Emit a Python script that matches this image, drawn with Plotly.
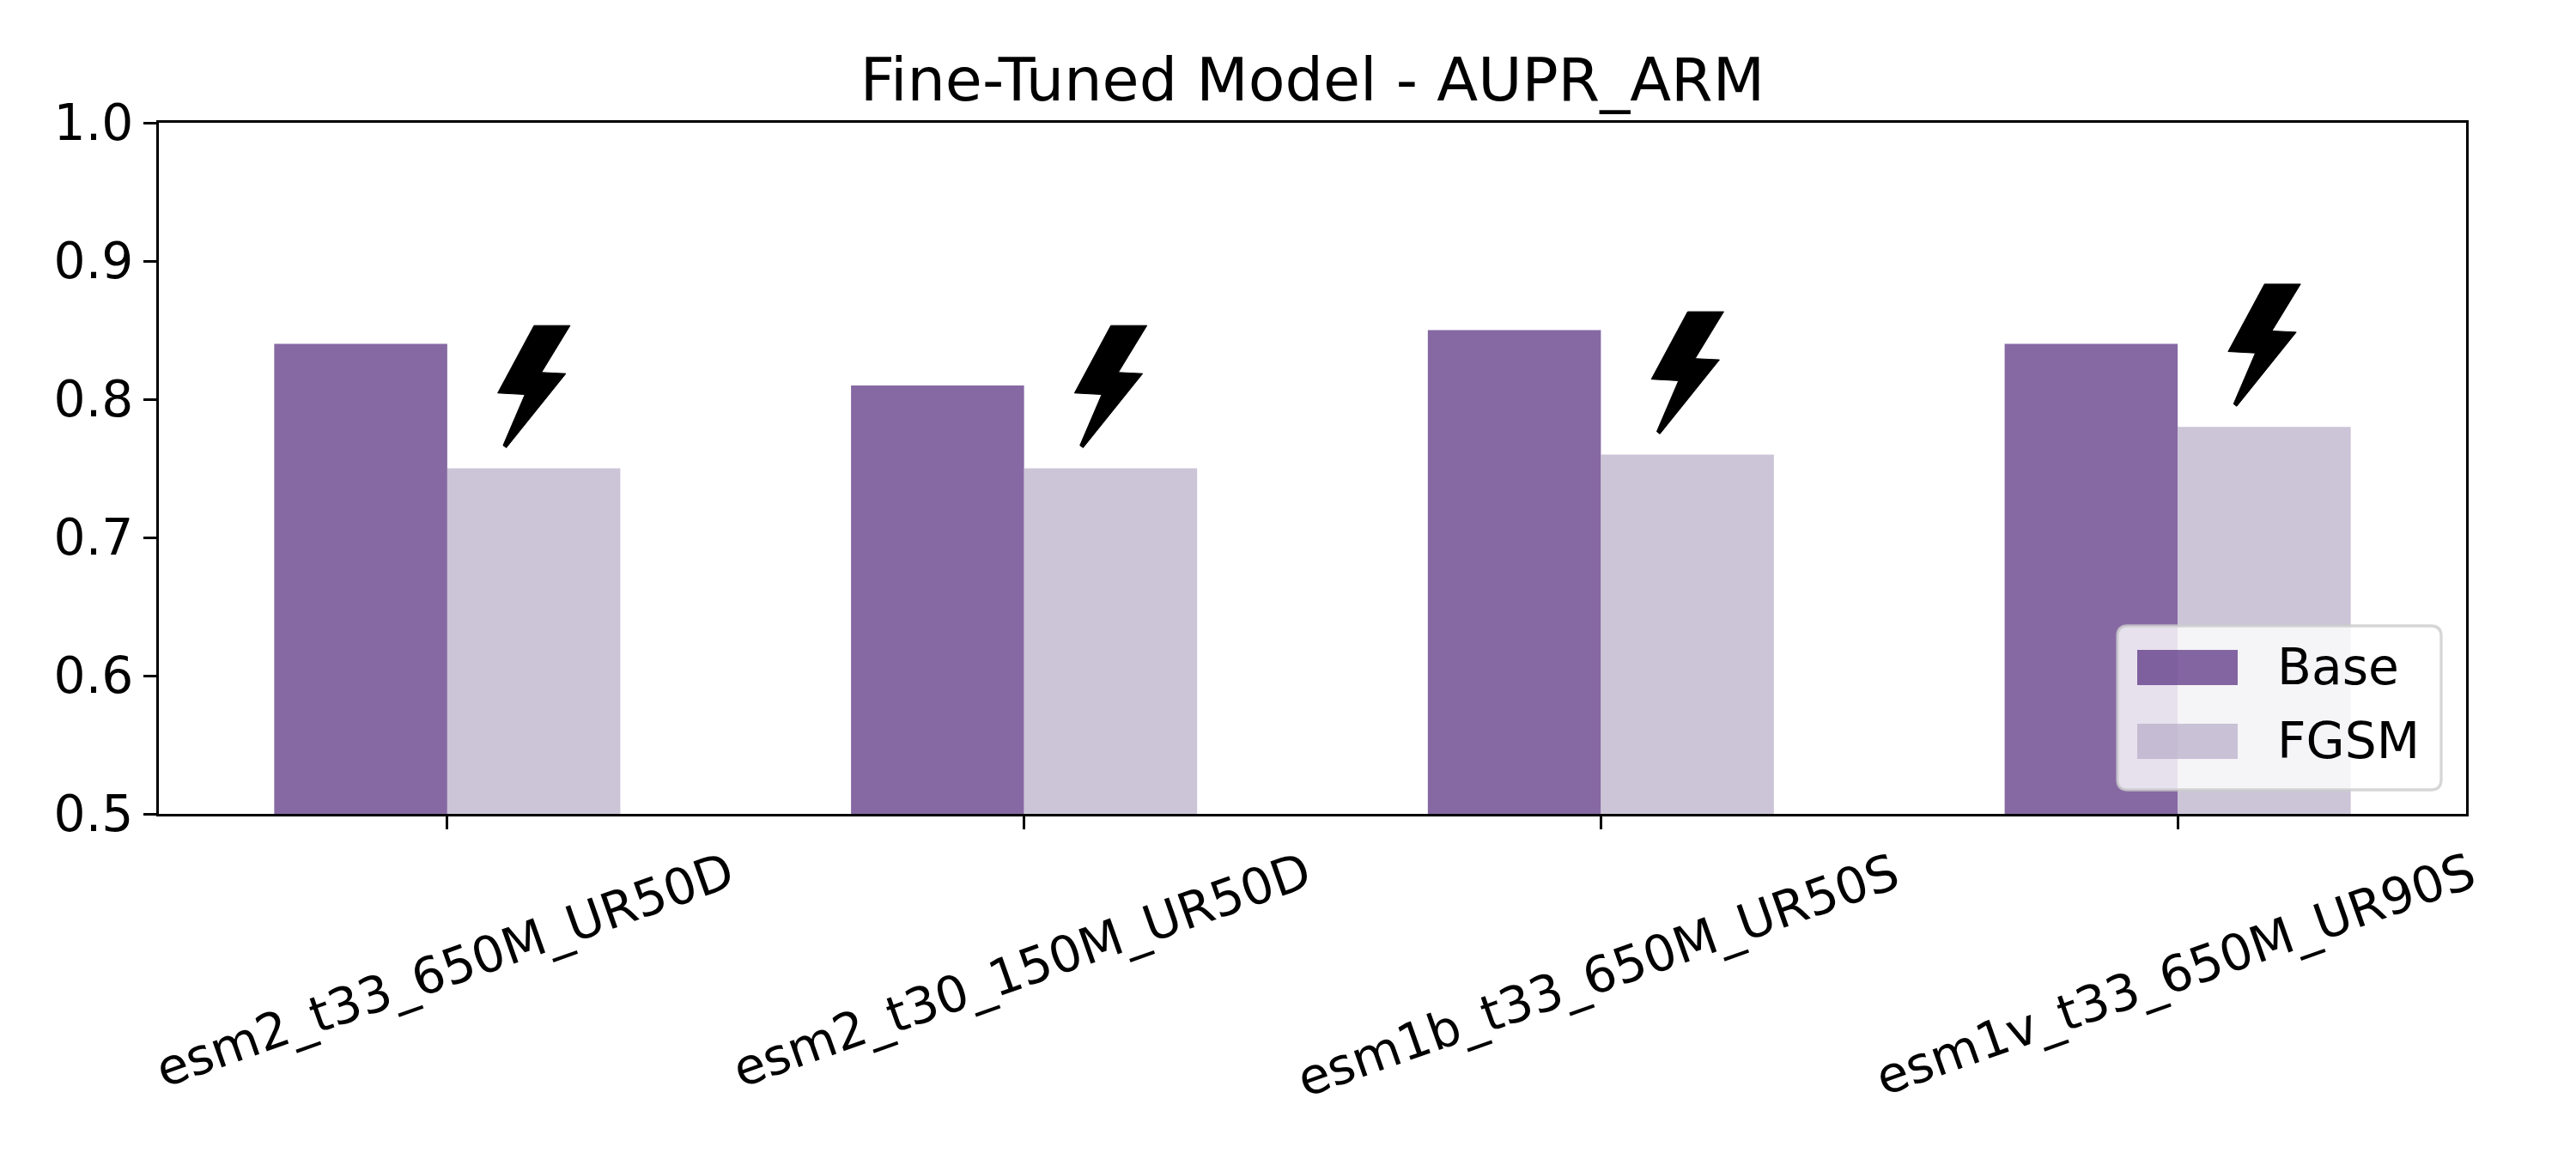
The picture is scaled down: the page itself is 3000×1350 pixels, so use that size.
import plotly.graph_objects as go

categories = ["esm2_t33_650M_UR50D", "esm2_t30_150M_UR50D", "esm1b_t33_650M_UR50S", "esm1v_t33_650M_UR90S"]
base_values = [0.84, 0.81, 0.85, 0.84]
fgsm_values = [0.75, 0.75, 0.76, 0.78]
y_ticks = [0.5, 0.6, 0.7, 0.8, 0.9, 1.0]
y_tick_labels = ["0.5", "0.6", "0.7", "0.8", "0.9", "1.0"]
series_names = ["Base", "FGSM"]

BASE_C = "rgba(82,41,124,0.7)"
FGSM_C = "rgba(182,172,200,0.7)"
W, H = 3000, 1350
L, R, T, B = 185, 2872, 143, 948
FONT = "DejaVu Sans"
FS = 58.3
BAR_W = 0.3
idx = list(range(len(categories)))


def px(x):
    return (x - L) / (R - L)


def py(y):
    return (B - y) / (B - T)


fig = go.Figure()
fig.add_bar(x=idx, y=[v - 0.5 for v in base_values], base=0.5, width=BAR_W, offset=-BAR_W,
            marker=dict(color=BASE_C, line_width=0), name=series_names[0], showlegend=False)
fig.add_bar(x=idx, y=[v - 0.5 for v in fgsm_values], base=0.5, width=BAR_W, offset=0,
            marker=dict(color=FGSM_C, line_width=0), name=series_names[1], showlegend=False)

shapes = []
# lightning icon, in pixel offsets from the top centre of each FGSM bar
bolt = [(367, 116), (493, 116), (393, 280), (478, 284), (270, 543), (259, 535), (335, 357), (240, 352)]
pts = [((zx / 3 + 500) - 622, 545 - (340 + zy / 3)) for zx, zy in bolt]
bolt_path = "M" + " L".join(f"{a:.1f},{b:.1f}" for a, b in pts) + " Z"
for i, v in zip(idx, fgsm_values):
    shapes.append(dict(type="path", path=bolt_path, xsizemode="pixel", ysizemode="pixel",
                       xref="x", yref="y", xanchor=i + BAR_W / 2, yanchor=v,
                       fillcolor="black", line=dict(color="black", width=1), layer="above"))

# legend box
x0, x1, y0, y1, r = 2466, 2843, 729, 920, 12
box = (f"M{px(x0 + r)},{py(y0)} L{px(x1 - r)},{py(y0)} Q{px(x1)},{py(y0)} {px(x1)},{py(y0 + r)} "
       f"L{px(x1)},{py(y1 - r)} Q{px(x1)},{py(y1)} {px(x1 - r)},{py(y1)} L{px(x0 + r)},{py(y1)} "
       f"Q{px(x0)},{py(y1)} {px(x0)},{py(y1 - r)} L{px(x0)},{py(y0 + r)} Q{px(x0)},{py(y0)} {px(x0 + r)},{py(y0)} Z")
shapes.append(dict(type="path", path=box, xref="paper", yref="paper", fillcolor="rgba(255,255,255,0.8)",
                   line=dict(color="rgba(204,204,204,0.8)", width=3.3), layer="above"))
shapes.append(dict(type="rect", xref="paper", yref="paper", x0=px(2489), x1=px(2606), y0=py(798), y1=py(757),
                   fillcolor=BASE_C, line_width=0, layer="above"))
shapes.append(dict(type="rect", xref="paper", yref="paper", x0=px(2489), x1=px(2606), y0=py(884), y1=py(843),
                   fillcolor=FGSM_C, line_width=0, layer="above"))

annotations = [dict(x=i, y=-(979 - B) / (B - T), xref="x", yref="paper", text=c, textangle=-19.5,
                    showarrow=False, xanchor="center", yanchor="top", borderpad=0, xshift=-3,
                    font=dict(family=FONT, size=FS, color="black"))
               for i, c in zip(idx, categories)]
for name, yc in zip(series_names, [777, 863]):
    annotations.append(dict(x=px(2651), y=py(yc), xref="paper", yref="paper", text=name, showarrow=False,
                            xanchor="left", yanchor="middle", borderpad=0,
                            font=dict(family=FONT, size=FS, color="black")))

axis_style = dict(showline=True, linecolor="black", linewidth=3, mirror=True, showgrid=False, zeroline=False,
                  ticks="outside", ticklen=15, tickwidth=3, tickcolor="black")
fig.update_layout(
    width=W, height=H, autosize=False,
    margin=dict(l=L, r=W - R, t=T, b=H - B, pad=0),
    paper_bgcolor="white", plot_bgcolor="white",
    font=dict(family=FONT, size=FS, color="black"),
    title=dict(text="Fine-Tuned Model - AUPR_ARM", x=px((L + R) / 2), xref="paper", xanchor="center",
               y=1 - 92 / H, yref="container", yanchor="middle", font=dict(family=FONT, size=70, color="black")),
    xaxis=dict(range=[-0.5, 3.5], tickmode="array", tickvals=idx, showticklabels=False, **axis_style),
    yaxis=dict(range=[0.5, 1.0], tickmode="array", tickvals=y_ticks, ticktext=y_tick_labels,
               tickfont=dict(family=FONT, size=FS, color="black"), **axis_style),
    shapes=shapes, annotations=annotations,
)
fig.write_html("out.html", config={"displayModeBar": False}, post_script="document.body.style.margin='0';")
